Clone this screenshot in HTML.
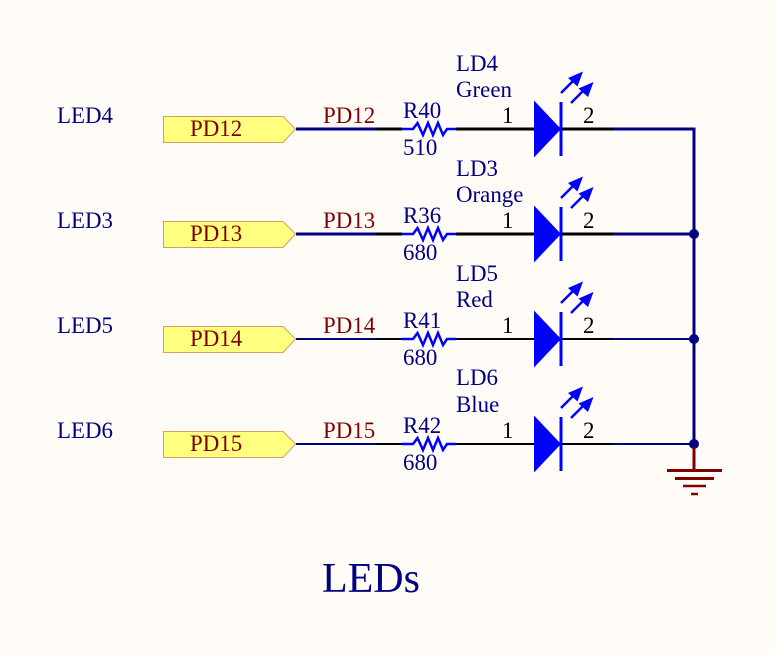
<!DOCTYPE html>
<html>
<head>
<meta charset="utf-8">
<style>
html,body{margin:0;padding:0;background:#fffcf8;}
svg{display:block;}
text{font-family:"Liberation Serif",serif;font-size:22.9px;}
.b{fill:#000080;}
.r{fill:#800000;}
.k{fill:#000000;}
</style>
</head>
<body>
<svg width="775" height="655" viewBox="0 0 775 655" xmlns="http://www.w3.org/2000/svg">
<defs>
<g id="sym">
  <polygon points="163.5,-12.5 283,-12.5 295.5,0 283,13.5 163.5,13.5" fill="#ffff80" stroke="#d2a05a" stroke-width="1"/>
  <polyline points="402,0 413,0 417.5,-6 423,6 428,-6 433,6 438,-6 443,6 447,0 456,0" fill="none" stroke="#0000ff" stroke-width="2.5"/>
  <polygon points="534,-28.5 561,0 534,28.5" fill="#0000ff"/>
  <line x1="561" y1="-27" x2="561" y2="27" stroke="#0000ff" stroke-width="3"/>
  <line x1="561" y1="-36" x2="574" y2="-49" stroke="#0000ff" stroke-width="2.5"/>
  <polygon points="583,-57.5 577.5,-42.5 568,-51" fill="#0000ff"/>
  <line x1="571" y1="-26" x2="584" y2="-39" stroke="#0000ff" stroke-width="2.5"/>
  <polygon points="593.5,-47 588,-32 578.5,-40.5" fill="#0000ff"/>
</g>
<g id="blk3" stroke="#000" stroke-width="3">
  <line x1="376" y1="0" x2="402" y2="0"/>
  <line x1="456" y1="0" x2="534" y2="0"/>
  <line x1="561" y1="0" x2="613" y2="0"/>
</g>
<g id="blk2" stroke="#000" stroke-width="2">
  <line x1="376" y1="0" x2="402" y2="0"/>
  <line x1="456" y1="0" x2="534" y2="0"/>
  <line x1="561" y1="0" x2="613" y2="0"/>
</g>
</defs>

<!-- net wires -->
<line x1="296" y1="129" x2="376" y2="129" stroke="#000080" stroke-width="3"/>
<line x1="296" y1="234" x2="376" y2="234" stroke="#000080" stroke-width="3"/>
<line x1="296" y1="339" x2="376" y2="339" stroke="#000080" stroke-width="2"/>
<line x1="296" y1="444" x2="376" y2="444" stroke="#000080" stroke-width="2"/>
<line x1="613" y1="129" x2="695" y2="129" stroke="#000080" stroke-width="3"/>
<line x1="613" y1="234" x2="694" y2="234" stroke="#000080" stroke-width="3"/>
<line x1="613" y1="339" x2="694" y2="339" stroke="#000080" stroke-width="2"/>
<line x1="613" y1="444" x2="694" y2="444" stroke="#000080" stroke-width="2"/>
<line x1="694" y1="127.5" x2="694" y2="444" stroke="#000080" stroke-width="3"/>

<use href="#blk3" y="129"/>
<use href="#blk3" y="234"/>
<use href="#blk2" y="339"/>
<use href="#blk2" y="444"/>
<use href="#sym" y="129"/>
<use href="#sym" y="234"/>
<use href="#sym" y="339"/>
<use href="#sym" y="444"/>

<circle cx="694" cy="234" r="5" fill="#000080"/>
<circle cx="694" cy="339" r="5" fill="#000080"/>
<circle cx="694" cy="444" r="5" fill="#000080"/>

<!-- ground -->
<line x1="694" y1="447" x2="694" y2="470" stroke="#800000" stroke-width="3"/>
<line x1="667" y1="470.5" x2="722" y2="470.5" stroke="#800000" stroke-width="3"/>
<line x1="675" y1="478.5" x2="714" y2="478.5" stroke="#800000" stroke-width="3"/>
<line x1="683" y1="486" x2="706" y2="486" stroke="#800000" stroke-width="2.5"/>
<line x1="691" y1="494" x2="698" y2="494" stroke="#800000" stroke-width="2.5"/>

<!-- left labels -->
<text class="b" x="57" y="123">LED4</text>
<text class="b" x="57" y="228">LED3</text>
<text class="b" x="57" y="333">LED5</text>
<text class="b" x="57" y="438">LED6</text>

<!-- port labels -->
<text class="r" x="190" y="136">PD12</text>
<text class="r" x="190" y="241">PD13</text>
<text class="r" x="190" y="346">PD14</text>
<text class="r" x="190" y="451">PD15</text>

<!-- net labels -->
<text class="r" x="323" y="123">PD12</text>
<text class="r" x="323" y="228">PD13</text>
<text class="r" x="323" y="333">PD14</text>
<text class="r" x="323" y="438">PD15</text>

<!-- resistors -->
<text class="b" x="403" y="118">R40</text>
<text class="b" x="403" y="155">510</text>
<text class="b" x="403" y="223">R36</text>
<text class="b" x="403" y="260">680</text>
<text class="b" x="403" y="328">R41</text>
<text class="b" x="403" y="365">680</text>
<text class="b" x="403" y="433">R42</text>
<text class="b" x="403" y="470">680</text>

<!-- LED labels -->
<text class="b" x="456" y="71">LD4</text>
<text class="b" x="456" y="97">Green</text>
<text class="b" x="456" y="176">LD3</text>
<text class="b" x="456" y="202">Orange</text>
<text class="b" x="456" y="281">LD5</text>
<text class="b" x="456" y="307">Red</text>
<text class="b" x="456" y="385">LD6</text>
<text class="b" x="456" y="412">Blue</text>

<!-- pin numbers -->
<text class="k" x="502" y="123">1</text>
<text class="k" x="583" y="123">2</text>
<text class="k" x="502" y="228">1</text>
<text class="k" x="583" y="228">2</text>
<text class="k" x="502" y="333">1</text>
<text class="k" x="583" y="333">2</text>
<text class="k" x="502" y="438">1</text>
<text class="k" x="583" y="438">2</text>

<text class="b" x="322" y="592" style="font-size:42px">LEDs</text>
</svg>
</body>
</html>
